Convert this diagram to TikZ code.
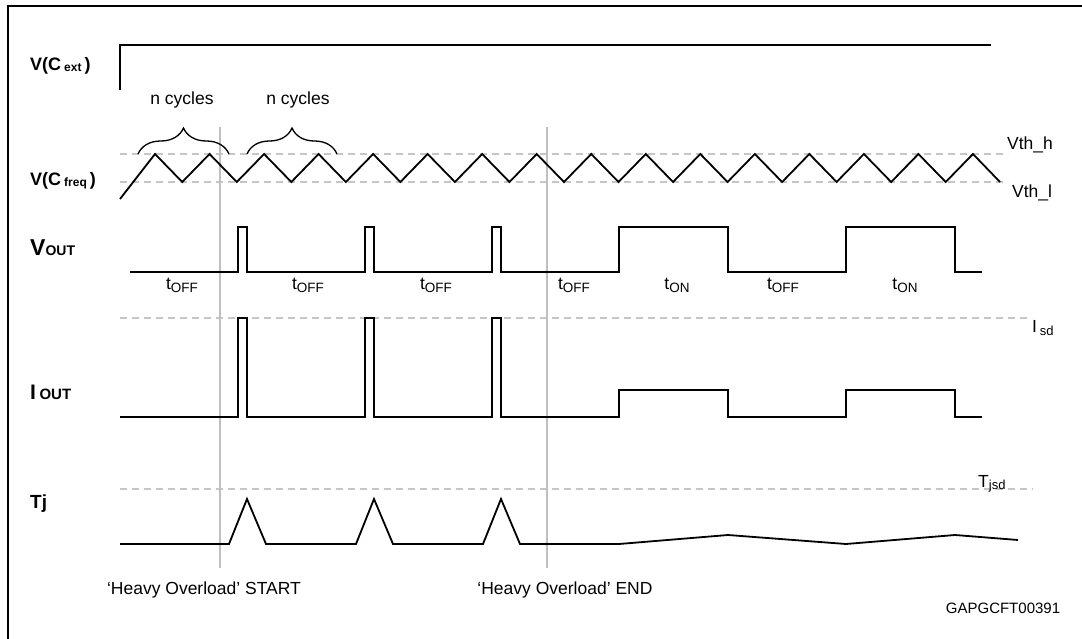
\documentclass[tikz,border=0pt]{standalone}
\usepackage{fontspec}
\setmainfont{Liberation Sans}
\usetikzlibrary{decorations.pathreplacing}
\newcommand{\fsz}[1]{\fontsize{#1}{#1}\selectfont}

\begin{document}
\begin{tikzpicture}[x=1pt,y=-1pt,
    sig/.style={line width=1.8pt, line join=miter},
    thr/.style={gray!45, line width=1.4pt, dash pattern=on 7pt off 5pt},
    evline/.style={gray!50, line width=1.3pt},
    brc/.style={decorate, decoration={brace, amplitude=26pt}, line width=1.3pt},
    txt/.style={inner sep=0pt, anchor=base, font=\fsz{17.5}},
    signame/.style={inner sep=0pt, anchor=base west, font=\bfseries}]
    \clip (0,0) rectangle (1082,639);

    % Frame
    \draw[line width=2.2pt] (8,650) -- (8,6) -- (1090,6);

    % Threshold levels
    \draw[thr] (120,154) -- (1008,154);
    \draw[thr] (120,182) -- (1008,182);
    \draw[thr] (120,318) -- (1032,318);
    \draw[thr] (120,489) -- (1033,489);
    \node[txt, anchor=base west] (vthh) at (1007,150) {Vth\_h};
    \node[txt, anchor=base west] (vthl) at (1012,198) {Vth\_l};
    \node[txt, anchor=base west] (isd) at (1032,332) {I\,\raisebox{-3pt}{\fsz{13}sd}};
    \node[txt, anchor=base west] (tjsd) at (978,487) {T\raisebox{-2pt}{\fsz{13}jsd}};

    % Overload start / end
    \draw[evline] (220,127) -- (220,568);
    \draw[evline] (547,127) -- (547,568);
    \node[txt] (ovstart) at (204,594) {‘Heavy Overload’ START};
    \node[txt] (ovend) at (565,594) {‘Heavy Overload’ END};

    % V(Cext)
    \node[signame] (vext) at (30,71) {\fsz{18}V(C\,\raisebox{-1pt}{\fsz{12}ext}\,)};
    \draw[sig] (120,90) -- (120,45) -- (991,45);

    % V(Cfreq)
    \node[signame] (vfreq) at (30,186) {\fsz{18}V(C\,\raisebox{-1pt}{\fsz{12}freq}\,)};
    \draw[sig] (120,199) -- (155,154)
        \foreach \k in {0,...,14} { -- ({155+\k*54.53+27.27},182) -- ({155+(\k+1)*54.53},154) }
        -- (1000,182);
    \draw[brc] (138,154) -- (229,154);
    \draw[brc] (247,154) -- (337,154);
    \node[txt] (ncyc1) at (182,105) {n cycles};
    \node[txt] (ncyc2) at (298,105) {n cycles};

    % VOUT
    \node[signame] (vout) at (30,256) {\fsz{23}V\fsz{14}OUT};
    \draw[sig] (130,272)
        \foreach \p in {238,365,492} { -- (\p,272) -- (\p,227) -- ({\p+9},227) -- ({\p+9},272) }
        -- (619,272) -- (619,227) -- (728,227) -- (728,272)
        -- (846,272) -- (846,227) -- (955,227) -- (955,272) -- (982,272);
    \foreach \x/\t [count=\i] in {182/OFF,308/OFF,436/OFF,574/OFF,677/ON,783/OFF,905/ON}
        \node[txt] (t\i) at (\x,290) {t\raisebox{-2pt}{\fsz{13.5}\t}};

    % IOUT
    \node[signame] (iout) at (30,399) {\fsz{21}I\,\fsz{15}OUT};
    \draw[sig] (120,417)
        \foreach \p in {238,365,492} { -- (\p,417) -- (\p,318) -- ({\p+9},318) -- ({\p+9},417) }
        -- (619,417) -- (619,390) -- (728,390) -- (728,417)
        -- (846,417) -- (846,390) -- (955,390) -- (955,417) -- (982,417);

    % Tj
    \node[signame] (tj) at (30,508) {\fsz{19}Tj};
    \draw[sig] (120,544)
        \foreach \p in {229,356,483} { -- (\p,544) -- ({\p+18},499) -- ({\p+37},544) }
        -- (619,544) -- (728,535) -- (846,544) -- (955,535) -- (1018,540);

    \node[txt, font=\fsz{15}] (figid) at (1003,613) {GAPGCFT00391};
\end{tikzpicture}
\end{document}
